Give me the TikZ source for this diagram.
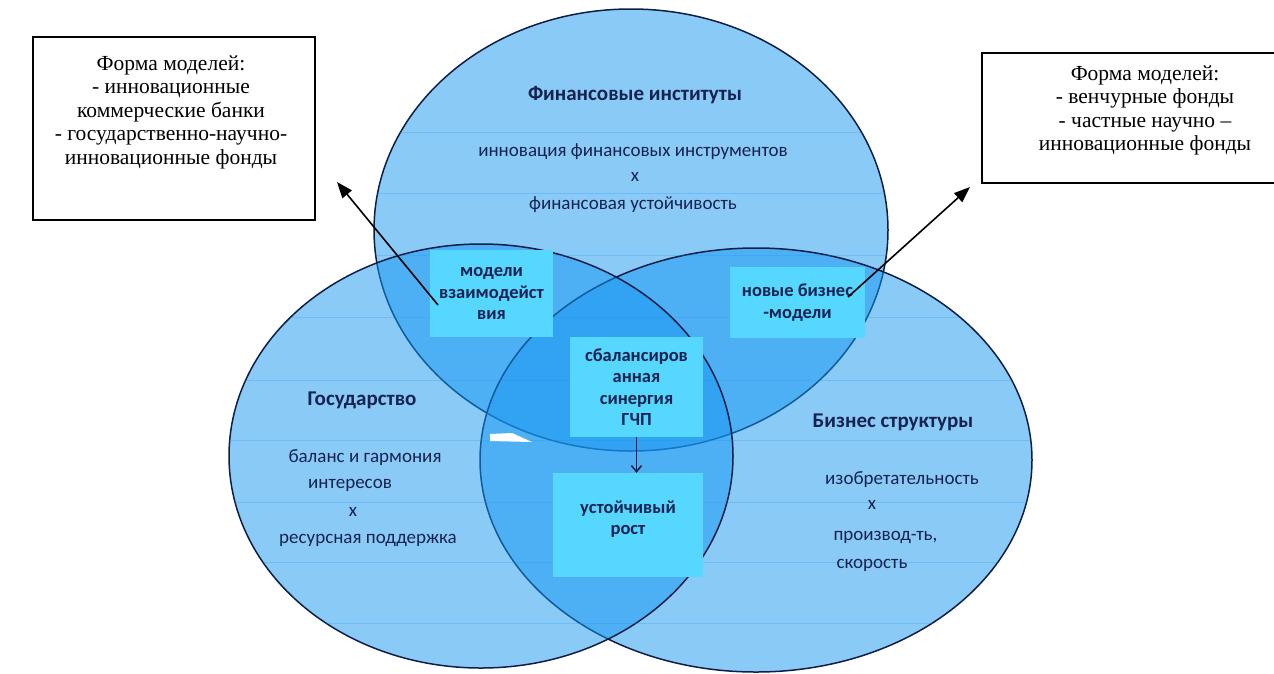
\documentclass[tikz,border=0pt]{standalone}
\usepackage{fontspec}
\setmainfont{Liberation Serif}
\newfontfamily\calibri{Carlito}
\usepackage{tikz}
\usetikzlibrary{arrows.meta}
\definecolor{vennblue}{RGB}{20,150,240}
\definecolor{vennedge}{RGB}{15,30,70}
\definecolor{boxcyan}{RGB}{85,215,255}
\definecolor{venntext}{RGB}{22,34,80}
\tikzstyle{venn}=[fill=vennblue,fill opacity=.5,draw=vennedge,line width=1.5pt]
\tikzstyle{inbox}=[fill=boxcyan,inner sep=0pt,align=center,text=venntext,font=\calibri\bfseries\fontsize{18.5}{21.5}\selectfont]
\tikzstyle{vtitle}=[text=venntext,font=\calibri\bfseries\fontsize{21}{24}\selectfont]
\tikzstyle{vtext}=[text=venntext,font=\calibri\fontsize{19}{22}\selectfont]
\tikzstyle{callbox}=[draw=black,fill=white,line width=1.4pt]
\tikzstyle{calltext}=[align=center,font=\fontsize{21.5}{23.5}\selectfont]
\tikzstyle{callarrow}=[line width=1.6pt,-{Triangle[length=16pt,width=12pt]}]

\begin{document}
\begin{tikzpicture}[x=1pt,y=-1pt]
  \useasboundingbox (0,0) rectangle (1274,673);
  \clip (0,0) rectangle (1274,673);

  \coordinate (fin) at (631,230);
  \coordinate (bus) at (756,460);
  \coordinate (gos) at (481,456);

  \draw[venn] (fin) ellipse [x radius=257pt,y radius=221pt];
  \draw[venn] (bus) ellipse [x radius=276pt,y radius=212pt];
  \draw[venn] (gos) ellipse [x radius=252pt,y radius=212pt];

  \begin{scope}
    \clip (fin) ellipse [x radius=257pt,y radius=221pt]
          (bus) ellipse [x radius=276pt,y radius=212pt]
          (gos) ellipse [x radius=252pt,y radius=212pt];
    \foreach \y in {132,193,255,317,380,440,502,562,623}
      \draw[vennblue,opacity=.25,line width=1pt] (0,\y) -- (1274,\y);
  \end{scope}
  \fill[white] (490,434) -- (512,433) -- (532,442) -- (490,441) -- cycle;

  \node[vtitle] (finT) at (635,95) {Финансовые институты};
  \node[vtext] (fin1) at (633,152) {инновация финансовых инструментов};
  \node[vtext] (fin2) at (635,177) {х};
  \node[vtext] (fin3) at (633,205) {финансовая устойчивость};

  \node[vtitle] (gosT) at (362,400) {Государство};
  \node[vtext] (gos1) at (365,458) {баланс и гармония};
  \node[vtext] (gos2) at (350,485) {интересов};
  \node[vtext] (gos3) at (353,512) {х};
  \node[vtext] (gos4) at (368,540) {ресурсная поддержка};

  \node[vtitle] (busT) at (893,422) {Бизнес структуры};
  \node[vtext] (bus1) at (902,480) {изобретательность};
  \node[vtext] (bus2) at (872,505) {х};
  \node[vtext,anchor=west] (bus3) at (830,537) {производ-ть,};
  \node[vtext,anchor=west] (bus4) at (833,565) {скорость};

  \node[inbox,minimum width=123pt,minimum height=87pt] (mod) at (491.5,293.5)
    {модели\\взаимодейст\\вия};
  \node[inbox,minimum width=135pt,minimum height=71pt] (newbiz) at (797.5,302.5)
    {новые бизнес\\-модели};
  \node[inbox,minimum width=133pt,minimum height=100pt] (gchp) at (636.5,387)
    {сбалансиров\\анная\\синергия\\ГЧП};
  \node[inbox,minimum width=150pt,minimum height=104pt] (rost) at (628,525)
    {устойчивый\\рост\\[-7pt]};
  \draw[vennedge,line width=1.5pt,-{Straight Barb[length=6pt,width=10pt]}]
    (gchp.south) -- (gchp.south |- rost.north);

  \node[callbox,minimum width=282pt,minimum height=183pt] (formL) at (174,128.5) {};
  \node[calltext,anchor=north] (formLtxt) at (171,52)
    {Форма моделей:\\- инновационные\\коммерческие банки\\- государственно-научно-\\инновационные фонды};
  \node[callbox,minimum width=326pt,minimum height=130pt] (formR) at (1145,118) {};
  \node[calltext,anchor=north] (formRtxt) at (1145,62)
    {Форма моделей:\\- венчурные фонды\\- частные научно --\\инновационные фонды};

  \coordinate (modIn) at (438,305);
  \coordinate (formLtip) at (337,182);
  \coordinate (newbizIn) at (848,297);
  \coordinate (formRtip) at (970,187);
  \draw[callarrow] (modIn) -- (formLtip);
  \draw[callarrow] (newbizIn) -- (formRtip);
\end{tikzpicture}
\end{document}
